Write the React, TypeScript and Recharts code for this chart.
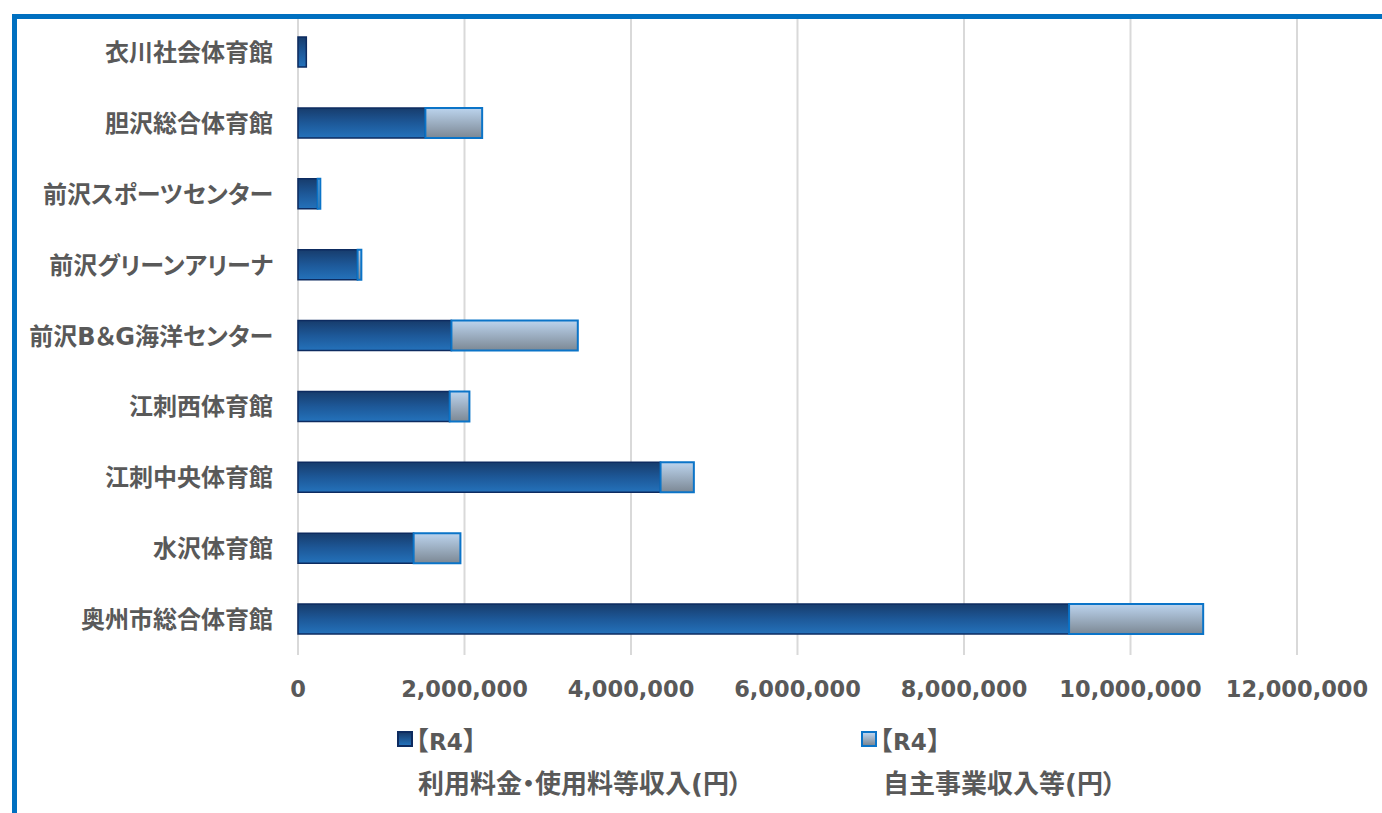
import React from 'react';
import { BarChart, Bar, XAxis, YAxis, CartesianGrid, Legend } from 'recharts';

const categories = [
  '衣川社会体育館',
  '胆沢総合体育館',
  '前沢スポーツセンター',
  '前沢グリーンアリーナ',
  '前沢B＆G海洋センター',
  '江刺西体育館',
  '江刺中央体育館',
  '水沢体育館',
  '奥州市総合体育館',
];
const usageFees = [100000, 1530000, 236000, 716000, 1843000, 1822000, 4355000, 1389000, 9262000];
const ownBusiness = [0, 682000, 32000, 45000, 1518000, 237000, 400000, 562000, 1611000];
const xTicks = [0, 2000000, 4000000, 6000000, 8000000, 10000000, 12000000];
const seriesTags = ['【R4】', '【R4】'];
const seriesLabels = ['利用料金・使用料等収入(円）', '自主事業収入等(円）'];

const data = categories.map((name, i) => ({ name, usage: usageFees[i], own: ownBusiness[i] }));

const TEXT = '#595959';
const FONT = "'DejaVu Sans','Noto Sans CJK JP',sans-serif";

const legendStyles = [
  { bg: 'linear-gradient(to bottom,#173c6c,#2472bb)', border: '#0d2b60', sq: 397, txt: 403, l2: 418 },
  { bg: 'linear-gradient(to bottom,#bcd4ee,#7c8894)', border: '#0b74c8', sq: 861, txt: 867, l2: 883 },
];

const renderLegend = (props: any) => {
  const payload = props.payload || [];
  return (
    <div style={{ position: 'relative', width: 1382, height: 0 }}>
      {payload.map((p: any, i: number) => {
        const s = legendStyles[i];
        return (
          <React.Fragment key={i}>
            <div
              style={{
                position: 'absolute',
                left: s.sq,
                top: 731,
                width: 12,
                height: 12,
                background: s.bg,
                border: `2px solid ${s.border}`,
              }}
            />
            <div
              style={{
                position: 'absolute',
                left: s.txt,
                top: 727,
                fontFamily: FONT,
                fontWeight: 'bold',
                fontSize: 26,
                lineHeight: '28px',
                color: TEXT,
                whiteSpace: 'nowrap',
              }}
            >
              {seriesTags[i].slice(0, 1)}
              <span style={{ fontSize: 23 }}>{seriesTags[i].slice(1, -1)}</span>
              {seriesTags[i].slice(-1)}
            </div>
            <div
              style={{
                position: 'absolute',
                left: s.l2,
                top: 770,
                fontFamily: FONT,
                fontWeight: 'bold',
                fontSize: 26,
                lineHeight: '28px',
                color: TEXT,
                whiteSpace: 'nowrap',
                fontFeatureSettings: '"palt"',
              }}
            >
              {seriesLabels[i]}
            </div>
          </React.Fragment>
        );
      })}
    </div>
  );
};

export default function App() {
  return (
    <div
      style={{
        position: 'absolute',
        left: 0,
        top: 0,
        width: 1382,
        height: 813,
        overflow: 'hidden',
        background: '#fff',
      }}
    >
      <BarChart
        width={1382}
        height={813}
        data={data}
        layout="vertical"
        margin={{ top: 17, right: 85, bottom: 128, left: 0 }}
        barSize={30}
      >
        <defs>
          <linearGradient id="gUsage" x1="0" y1="0" x2="0" y2="1">
            <stop offset="0%" stopColor="#173c6c" />
            <stop offset="50%" stopColor="#1d5898" />
            <stop offset="100%" stopColor="#2472bb" />
          </linearGradient>
          <linearGradient id="gOwn" x1="0" y1="0" x2="0" y2="1">
            <stop offset="0%" stopColor="#bcd4ee" />
            <stop offset="100%" stopColor="#7c8894" />
          </linearGradient>
        </defs>
        <CartesianGrid vertical={true} horizontal={false} stroke="#d9d9d9" strokeWidth={2} />
        <XAxis
          type="number"
          domain={[0, 12000000]}
          ticks={xTicks}
          interval={0}
          axisLine={false}
          tickLine={false}
          tickSize={0}
          tickMargin={26}
          height={30}
          tickFormatter={(v: number) => v.toLocaleString('en-US')}
          tick={{ fill: TEXT, fontSize: 22.5, fontWeight: 'bold', fontFamily: FONT }}
        />
        <YAxis
          type="category"
          dataKey="name"
          width={298}
          axisLine={false}
          tickLine={false}
          tickSize={0}
          tickMargin={25}
          interval={0}
          tick={{
            fill: TEXT,
            fontSize: 24,
            fontWeight: 'bold',
            fontFamily: FONT,
            style: { fontFeatureSettings: '"palt"' },
          }}
        />
        <Legend
          content={renderLegend}
          wrapperStyle={{ position: 'absolute', left: 0, top: 0, width: 1382, height: 0, overflow: 'visible' }}
        />
        <Bar
          dataKey="usage"
          name={seriesTags[0] + seriesLabels[0]}
          stackId="a"
          fill="url(#gUsage)"
          stroke="#0d2b60"
          strokeWidth={1.5}
          isAnimationActive={false}
        />
        <Bar
          dataKey="own"
          name={seriesTags[1] + seriesLabels[1]}
          stackId="a"
          fill="url(#gOwn)"
          stroke="#0b74c8"
          strokeWidth={2}
          isAnimationActive={false}
        />
      </BarChart>
      <div
        style={{
          position: 'absolute',
          left: 12,
          top: 14,
          width: 1400,
          height: 820,
          borderLeft: '5px solid #0070C0',
          borderTop: '5px solid #0070C0',
          pointerEvents: 'none',
        }}
      />
    </div>
  );
}
